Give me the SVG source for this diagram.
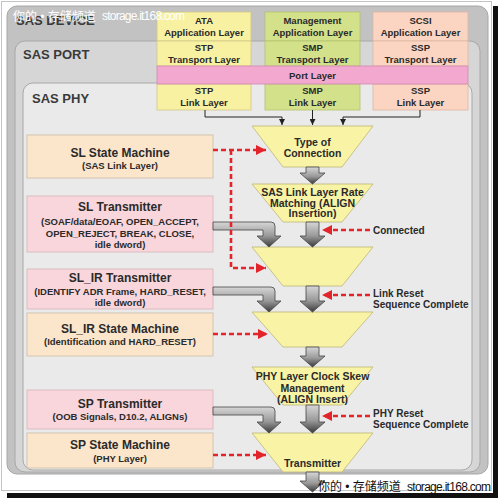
<svg xmlns="http://www.w3.org/2000/svg" width="500" height="500" viewBox="0 0 500 500">
<style>
text{font-family:"Liberation Sans",Arial,sans-serif;font-weight:bold;fill:#2a2a2a}
.c{text-anchor:middle}
.lay{font-size:13px;fill:#3a3a3a}
.cell{font-size:9.5px}
.tt{font-size:12px}
.st{font-size:9.5px}
.tz{font-size:10.5px}
.rl{font-size:10px}
.wm{font-family:"Liberation Sans","Noto Sans CJK SC",sans-serif;font-weight:normal;font-size:12px}
.yel{fill:#f8f1a2;stroke:#d2c987;stroke-width:0.8}
.grn{fill:#d3e18b;stroke:#b3c26d;stroke-width:0.8}
.pch{fill:#fbd5c1;stroke:#dfb6a2;stroke-width:0.8}
.pnk{fill:#f3a9cf;stroke:#d38bb0;stroke-width:0.8}
.lbx{fill:#fbe6cc;stroke:#cbbba5;stroke-width:0.8}
.lpk{fill:#f9d6dc;stroke:#d6b4ba;stroke-width:0.8}
.trap{fill:#f9f3a6;stroke:#bdb67a;stroke-width:0.8}
.blk{fill:none;stroke:#222;stroke-width:1}
.red{fill:none;stroke:#e3242b;stroke-width:2.6;stroke-dasharray:5 3}
.ga{fill:url(#gg);stroke:#444;stroke-width:0.8}
</style>
<defs>
<linearGradient id="gg" x1="0" y1="0" x2="0" y2="1">
<stop offset="0" stop-color="#d6d6d6"/>
<stop offset="0.55" stop-color="#9a9a9a"/>
<stop offset="1" stop-color="#3a3a3a"/>
</linearGradient>
<marker id="ar" viewBox="0 0 10 10" refX="10" refY="5" markerWidth="10" markerHeight="10" markerUnits="userSpaceOnUse" orient="auto">
<path d="M0,0 L10,5 L0,10 Z" fill="#e3242b"/>
</marker>
<marker id="ab" viewBox="0 0 10 10" refX="10" refY="5" markerWidth="6" markerHeight="6" markerUnits="userSpaceOnUse" orient="auto">
<path d="M0,0 L10,5 L0,10 Z" fill="#222"/>
</marker>
</defs>
<rect x="0" y="0" width="500" height="500" fill="#fff"/>
<rect x="1.5" y="1.5" width="490" height="489" fill="#fff" stroke="#c4c4c4"/>
<rect x="493" y="6" width="5" height="492" fill="#111"/>
<rect x="7" y="493" width="491" height="5" fill="#111"/>

<g id="sas-device">
<rect x="7" y="6" width="481" height="468" rx="10" fill="#c2c2c2" stroke="#a6a6a6"/>
<text class="lay" x="16" y="25">SAS DEVICE</text>
</g>
<g id="sas-port">
<rect x="15" y="41" width="465" height="431" rx="10" fill="#d6d6d6" stroke="#a8a8a8"/>
<text class="lay" x="23" y="59">SAS PORT</text>
</g>
<g id="sas-phy">
<rect x="23" y="83" width="449" height="387" rx="10" fill="#eaeaea" stroke="#a8a8a8"/>
<text class="lay" x="32" y="103">SAS PHY</text>
</g>

<g id="ata-app"><rect class="yel" x="157" y="12" width="94" height="29"/><text class="cell c" x="204" y="23.5">ATA</text><text class="cell c" x="204" y="35.5">Application Layer</text></g>
<g id="stp-transport"><rect class="yel" x="157" y="41" width="94" height="25"/><text class="cell c" x="204" y="51">STP</text><text class="cell c" x="204" y="62.5">Transport Layer</text></g>
<g id="stp-link"><rect class="yel" x="157" y="84" width="94" height="26"/><text class="cell c" x="204" y="94">STP</text><text class="cell c" x="204" y="106">Link Layer</text></g>
<g id="mgmt-app"><rect class="grn" x="265" y="12" width="95" height="29"/><text class="cell c" x="312.5" y="23.5">Management</text><text class="cell c" x="312.5" y="35.5">Application Layer</text></g>
<g id="smp-transport"><rect class="grn" x="265" y="41" width="95" height="25"/><text class="cell c" x="312.5" y="51">SMP</text><text class="cell c" x="312.5" y="62.5">Transport Layer</text></g>
<g id="smp-link"><rect class="grn" x="265" y="84" width="95" height="26"/><text class="cell c" x="312.5" y="94">SMP</text><text class="cell c" x="312.5" y="106">Link Layer</text></g>
<g id="scsi-app"><rect class="pch" x="373" y="12" width="95" height="29"/><text class="cell c" x="420.5" y="23.5">SCSI</text><text class="cell c" x="420.5" y="35.5">Application Layer</text></g>
<g id="ssp-transport"><rect class="pch" x="373" y="41" width="95" height="25"/><text class="cell c" x="420.5" y="51">SSP</text><text class="cell c" x="420.5" y="62.5">Transport Layer</text></g>
<g id="ssp-link"><rect class="pch" x="373" y="84" width="95" height="26"/><text class="cell c" x="420.5" y="94">SSP</text><text class="cell c" x="420.5" y="106">Link Layer</text></g>
<g id="port-layer"><rect class="pnk" x="157" y="66" width="311" height="18"/><text class="cell c" x="312.5" y="78.5">Port Layer</text></g>

<g id="sl-state-machine"><rect class="lbx" x="27" y="135" width="186" height="43"/><text class="tt c" x="120" y="157">SL State Machine</text><text class="st c" x="120" y="168.5">(SAS Link Layer)</text></g>
<g id="sl-transmitter"><rect class="lpk" x="27" y="196" width="186" height="56"/><text class="tt c" x="120" y="211">SL Transmitter</text><text class="st c" x="120" y="224.5">(SOAF/data/EOAF, OPEN_ACCEPT,</text><text class="st c" x="120" y="236.5">OPEN_REJECT, BREAK, CLOSE,</text><text class="st c" x="120" y="247.5">idle dword)</text></g>
<g id="sl-ir-transmitter"><rect class="lpk" x="27" y="269" width="186" height="40"/><text class="tt c" x="120" y="282">SL_IR Transmitter</text><text class="st c" x="120" y="294.5">(IDENTIFY ADR Frame, HARD_RESET,</text><text class="st c" x="120" y="305.5">idle dword)</text></g>
<g id="sl-ir-state-machine"><rect class="lbx" x="27" y="313" width="186" height="43"/><text class="tt c" x="120" y="333">SL_IR State Machine</text><text class="st c" x="120" y="344.5">(Identification and HARD_RESET)</text></g>
<g id="sp-transmitter"><rect class="lpk" x="27" y="390" width="186" height="39"/><text class="tt c" x="120" y="408">SP Transmitter</text><text class="st c" x="120" y="419.5">(OOB Signals, D10.2, ALIGNs)</text></g>
<g id="sp-state-machine"><rect class="lbx" x="27" y="433" width="186" height="35"/><text class="tt c" x="120" y="449">SP State Machine</text><text class="st c" x="120" y="461.5">(PHY Layer)</text></g>

<g id="type-of-connection"><polygon class="trap" points="252,126 373,126 342,167 283,167"/><text class="tz c" x="312.5" y="145.5">Type of</text><text class="tz c" x="312.5" y="157">Connection</text></g>
<g id="rate-matching"><polygon class="trap" points="252,184 373,184 342,222 283,222"/><text class="tz c" x="312.5" y="196">SAS Link Layer Rate</text><text class="tz c" x="312.5" y="206.5">Matching (ALIGN</text><text class="tz c" x="312.5" y="217">Insertion)</text></g>
<g id="stage-3"><polygon class="trap" points="252,247 373,247 342,286 283,286"/></g>
<g id="stage-4"><polygon class="trap" points="252,312 373,312 342,347 283,347"/></g>
<g id="clock-skew"><polygon class="trap" points="252,367 373,367 342,405 283,405"/><text class="tz c" x="312.5" y="380">PHY Layer Clock Skew</text><text class="tz c" x="312.5" y="391.5">Management</text><text class="tz c" x="312.5" y="402.5">(ALIGN Insert)</text></g>
<g id="transmitter"><polygon class="trap" points="252,433 373,433 342,472 283,472"/><text class="tz c" x="312.5" y="466.5">Transmitter</text></g>

<g id="labels">
<text class="rl" x="373" y="234">Connected</text>
<text class="rl" x="373" y="297">Link Reset</text>
<text class="rl" x="373" y="307.5">Sequence Complete</text>
<text class="rl" x="373" y="417">PHY Reset</text>
<text class="rl" x="373" y="427.5">Sequence Complete</text>
</g>

<g id="connectors">
<path class="blk" d="M205,110 V117 H282 V125" marker-end="url(#ab)"/>
<path class="blk" d="M312.5,110 V125" marker-end="url(#ab)"/>
<path class="blk" d="M420,110 V117 H343 V125" marker-end="url(#ab)"/>
<path class="ga" d="M306,167 H319 V173 H325 L312.5,184 L300,173 H306 Z"/>
<path class="ga" d="M306,222 H319 V236 H325 L312.5,247 L300,236 H306 Z"/>
<path class="ga" d="M306,286 H319 V301 H325 L312.5,312 L300,301 H306 Z"/>
<path class="ga" d="M306,347 H319 V356 H325 L312.5,367 L300,356 H306 Z"/>
<path class="ga" d="M306,405 H319 V422 H325 L312.5,433 L300,422 H306 Z"/>
<path class="ga" d="M306,472 H319 V481 H325 L312.5,492 L300,481 H306 Z"/>
<path class="ga" d="M213,222 H271 Q275,222 275,226 V236 H281 L269,247 L257,236 H263 V230 H213 Z"/>
<path class="ga" d="M213,287 H271 Q275,287 275,291 V301 H281 L269,312 L257,301 H263 V295 H213 Z"/>
<path class="ga" d="M213,407 H271 Q275,407 275,411 V422 H281 L269,433 L257,422 H263 V415 H213 Z"/>
<path class="red" d="M213,150 H266" marker-end="url(#ar)"/>
<path class="red" d="M231,150 V268 H266" marker-end="url(#ar)"/>
<path class="red" d="M213,334 H268" marker-end="url(#ar)"/>
<path class="red" d="M213,455 H266" marker-end="url(#ar)"/>
<path class="red" d="M370,230 H322" marker-end="url(#ar)"/>
<path class="red" d="M370,295 H322" marker-end="url(#ar)"/>
<path class="red" d="M370,416 H322" marker-end="url(#ar)"/>
</g>

<g id="watermarks">
<text class="wm" x="13" y="21" fill="#fff" style="fill:#fff">你的 • 存储频道</text>
<text class="wm" x="102" y="20" textLength="83" style="fill:#fff">storage.it168.com</text>
<text class="wm" x="318" y="491" style="fill:#111">你的 • 存储频道</text>
<text class="wm" x="407" y="491" textLength="84" style="fill:#111">storage.it168.com</text>
</g>
</svg>
